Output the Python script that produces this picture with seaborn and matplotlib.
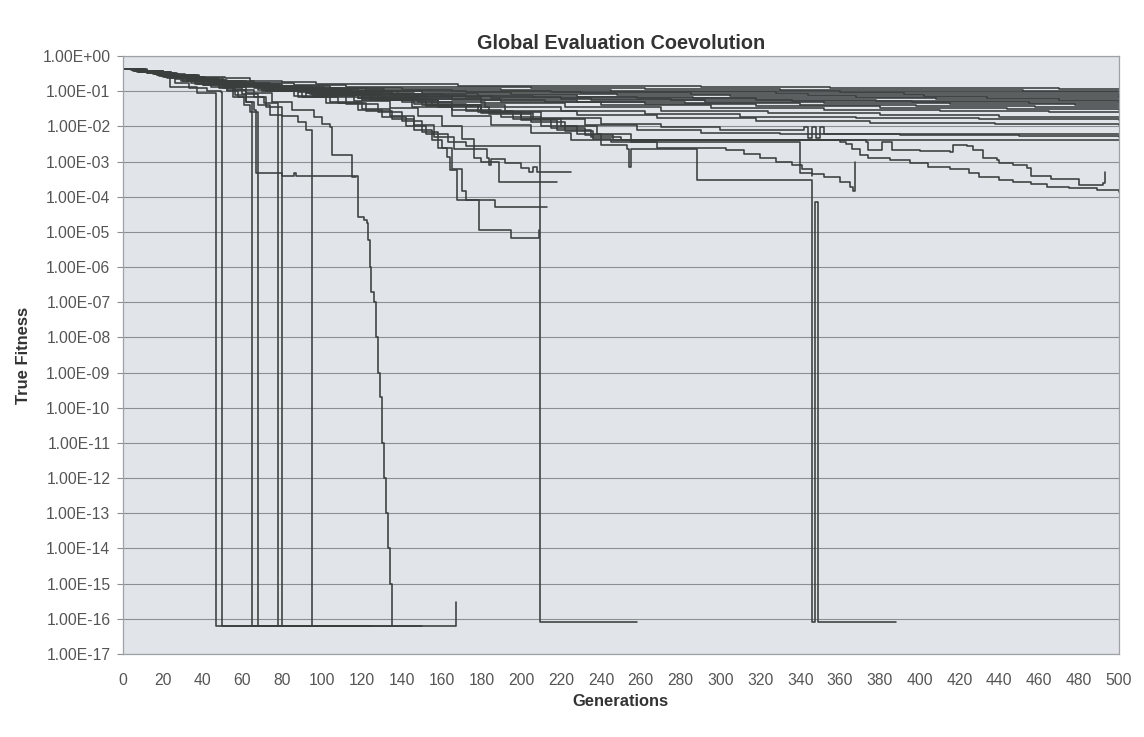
import matplotlib
matplotlib.use("Agg")
import matplotlib.pyplot as plt
from matplotlib.ticker import FixedLocator, FuncFormatter, NullLocator
import pandas as pd
import seaborn as sns

TITLE = "Global Evaluation Coevolution"
X_LABEL = "Generations"
Y_LABEL = "True Fitness"
x_ticks = list(range(0, 501, 20))
y_ticks = [10.0 ** e for e in range(0, -18, -1)]

# best-so-far fitness of each run: (generation, fitness) change points
FLOOR_A = 6.3e-17
FLOOR_B = 8.1e-17

t01 = [(0, .43), (5, .40), (11, .36), (19, .32), (27, .29), (38, .26), (51, .23), (64, .20), (80, .18), (97, .165), (125, .155), (168, .145), (226, .138), (290, .13), (355, .125), (418, .12), (470, .117), (500, .115)]
t02 = [(0, .43), (6, .38), (14, .33), (24, .28), (36, .24), (50, .20), (66, .17), (86, .15), (112, .135), (150, .128), (205, .12), (262, .115), (330, .11), (395, .106), (452, .103), (500, .10)]
t03 = [(0, .43), (4, .39), (12, .32), (21, .27), (34, .23), (47, .19), (62, .165), (80, .14), (104, .125), (140, .115), (190, .11), (245, .104), (300, .10), (360, .097), (425, .094), (500, .092)]
t04 = [(0, .43), (7, .37), (16, .30), (27, .25), (41, .20), (57, .17), (74, .145), (95, .125), (122, .11), (165, .102), (215, .097), (270, .092), (328, .088), (392, .085), (446, .082), (500, .08)]
t05 = [(0, .43), (8, .36), (18, .29), (30, .24), (44, .19), (60, .16), (79, .135), (101, .115), (131, .10), (172, .093), (230, .088), (285, .083), (344, .079), (402, .075), (463, .072), (500, .07)]
t06 = [(0, .43), (5, .38), (15, .31), (26, .25), (40, .20), (55, .165), (72, .14), (92, .118), (118, .10), (150, .09), (195, .083), (248, .077), (305, .072), (368, .068), (434, .064), (500, .062)]
t07 = [(0, .43), (9, .35), (20, .28), (33, .22), (48, .18), (66, .145), (86, .12), (108, .10), (138, .085), (178, .077), (228, .07), (286, .066), (346, .062), (408, .059), (470, .057), (500, .056)]
t08 = [(0, .43), (6, .37), (17, .29), (29, .23), (43, .18), (58, .15), (76, .125), (98, .10), (126, .085), (160, .075), (206, .068), (258, .062), (318, .058), (378, .054), (440, .051), (500, .05)]
t09 = [(0, .43), (7, .36), (19, .28), (32, .22), (47, .17), (64, .14), (83, .115), (106, .095), (135, .08), (172, .068), (220, .061), (275, .056), (336, .052), (396, .049), (455, .046), (500, .045)]
t10 = [(0, .43), (10, .35), (22, .27), (35, .21), (51, .165), (69, .135), (90, .11), (115, .09), (146, .075), (185, .064), (235, .056), (292, .05), (352, .046), (415, .043), (478, .041), (500, .04)]
t11 = [(0, .43), (8, .36), (20, .28), (34, .21), (50, .16), (67, .13), (88, .105), (112, .085), (142, .068), (180, .058), (228, .05), (282, .045), (340, .041), (398, .038), (458, .036), (500, .035)]
t12 = [(0, .43), (6, .38), (16, .30), (28, .23), (43, .175), (60, .14), (80, .11), (103, .088), (130, .07), (165, .058), (212, .048), (262, .042), (318, .037), (380, .034), (444, .031), (500, .03)]
t13 = [(0, .43), (9, .36), (21, .27), (36, .20), (53, .155), (72, .12), (94, .095), (120, .075), (152, .06), (190, .048), (240, .04), (295, .034), (352, .03), (410, .028), (465, .026), (500, .025)]
t14 = [(0, .43), (7, .37), (19, .28), (33, .21), (50, .16), (68, .125), (90, .10), (114, .078), (144, .06), (180, .045), (222, .035), (270, .028), (324, .024), (380, .021), (440, .019), (500, .018)]
t15 = [(0, .43), (8, .36), (20, .28), (35, .20), (52, .15), (70, .115), (92, .088), (118, .066), (148, .048), (182, .035), (220, .027), (262, .022), (310, .019), (368, .017), (430, .016), (500, .015)]
t16 = [(0, .43), (10, .35), (23, .26), (38, .19), (56, .14), (76, .105), (100, .078), (128, .056), (158, .04), (192, .028), (228, .021), (268, .017), (318, .014), (375, .0125), (438, .0115), (500, .011)]
t17 = [(0, .43), (7, .37), (18, .29), (32, .21), (50, .155), (70, .115), (94, .085), (120, .06), (150, .04), (180, .026), (210, .017), (240, .012), (270, .0095), (300, .008), (342, .0095), (344, .0048), (346, .0095), (348, .0048), (350, .0095), (352, .006), (420, .0062), (500, .006)]
t18 = [(0, .43), (9, .36), (21, .27), (36, .20), (54, .15), (74, .11), (98, .08), (124, .055), (152, .037), (180, .024), (206, .016), (232, .011), (258, .008), (290, .0065), (330, .006), (390, .0055), (450, .0052), (500, .005)]

flat_l = [(0, .43), (9, .36), (21, .28), (37, .20), (55, .15), (75, .115), (98, .085), (125, .06), (152, .04), (178, .025), (200, .015), (218, .008), (235, .005), (250, .004), (500, .004)]
slope_g = [(0, .43), (7, .38), (18, .30), (31, .22), (48, .16), (66, .125), (88, .095), (112, .07), (140, .048), (165, .03), (190, .018), (210, .01), (228, .006), (240, .004), (360, .0036), (363, .0032), (366, .0022), (370, .0015), (374, .00126), (385, .0011), (395, .0009), (404, .0007), (415, .0006), (425, .00048), (430, .00036), (440, .0003), (447, .00026), (456, .00023), (464, .00019), (475, .000175), (489, .00016), (500, .00014)]
slope_h = [(0, .43), (8, .37), (20, .29), (35, .21), (52, .155), (71, .12), (93, .09), (118, .065), (146, .044), (172, .027), (196, .016), (215, .009), (232, .0055), (246, .004), (373, .0036), (374, .0021), (381, .0036), (386, .0021), (400, .002), (415, .0019), (416.5, .0029), (424, .0027), (427, .0021), (432, .0013), (439, .0011), (440, .0009), (447, .0008), (454, .00066), (456, .00038), (466, .00032), (480, .00022), (489, .00021), (492, .00025), (493, .0005)]

drop_1 = [(0, .43), (8, .37), (16, .30), (23.5, .13), (37, .09), (46, .088), (46.5, FLOOR_A), (104, FLOOR_A)]
drop_2 = [(0, .43), (10, .35), (18, .27), (26, .17), (33, .12), (42, .10), (49, .093), (49.5, FLOOR_A), (120, FLOOR_A)]
drop_3 = [(0, .43), (9, .36), (20, .26), (30, .20), (40, .15), (52, .10), (58, .07), (62, .05), (65, FLOOR_A), (90, FLOOR_A)]
drop_4 = [(0, .43), (11, .34), (24, .23), (36, .16), (48, .12), (55, .07), (61, .04), (64, .026), (68, FLOOR_A), (135, FLOOR_A)]
drop_5 = [(0, .43), (12, .33), (26, .22), (40, .15), (55, .11), (66, .07), (71, .046), (78, FLOOR_A), (110, FLOOR_A)]
drop_6 = [(0, .43), (8, .36), (21, .25), (34, .17), (50, .12), (60, .085), (68, .04), (74, .021), (80, FLOOR_A), (150, FLOOR_A)]
drop_7 = [(0, .43), (10, .35), (22, .24), (37, .16), (52, .11), (62, .07), (72, .035), (80, .02), (88, .013), (92, .008), (95, FLOOR_A), (125, FLOOR_A)]

slide_1 = [(0, .43), (7, .37), (17, .28), (29, .19), (44, .13), (56, .08), (62, .05), (66, .03), (67, 4.7e-4), (80, 3.8e-4), (86, 4.6e-4), (87, 3.8e-4), (118, 2.6e-5), (121, 2.2e-5), (122.5, 1.8e-5), (123, 6e-6), (124, 1e-6), (124.5, 2e-7), (126, 1e-7), (127, 1e-8), (128, 1e-9), (129, 2e-10), (130, 1e-11), (131, 1e-12), (132, 1e-13), (133, 1e-14), (134, 1e-15), (135, FLOOR_A), (166, FLOOR_A), (167, 3e-16)]
slide_2 = [(0, .43), (9, .36), (19, .27), (32, .19), (48, .13), (62, .09), (75, .05), (85, .03), (96, .018), (100, .012), (104, .0095), (105, .0015), (115, 3.6e-4), (117, 3.6e-4)]

end_b = [(0, .43), (10, .36), (22, .26), (38, .18), (55, .13), (72, .10), (88, .07), (102, .045), (118, .03), (130, .018), (142, .01), (152, .006), (163, .0035), (172, .0028), (209.5, FLOOR_B), (258, FLOOR_B)]
end_c = [(0, .43), (8, .37), (20, .27), (35, .19), (52, .14), (70, .10), (90, .07), (108, .045), (122, .028), (135, .016), (146, .008), (155, .004), (160, .0025), (162.5, .00135), (164, 5.7e-4), (167.5, 8e-5), (179, 1.15e-5), (195, 6.7e-6), (209, 1.1e-5)]
end_d = [(0, .43), (9, .36), (21, .27), (36, .20), (54, .14), (72, .10), (92, .068), (112, .042), (128, .025), (140, .014), (150, .007), (158, .0025), (165, 6e-4), (170, 1.5e-4), (172, 8e-5), (187, 5.1e-5), (213, 5.1e-5)]
end_e = [(0, .43), (7, .37), (19, .28), (33, .20), (51, .14), (68, .105), (86, .075), (104, .05), (120, .032), (134, .02), (146, .011), (156, .005), (166, .0022), (176, .0013), (180, .001), (189, 2.6e-4), (218, 2.6e-4)]
end_f = [(0, .43), (10, .35), (23, .26), (39, .19), (57, .14), (76, .10), (96, .075), (116, .052), (134, .033), (148, .02), (160, .01), (170, .0045), (176, .0022), (183, .0013), (184, 8e-4), (185, .0012), (192, 9e-4), (200, 6.5e-4), (204, 5e-4), (206, 7e-4), (208, 5e-4), (225, 5e-4)]

late_1 = [(0, .43), (8, .37), (20, .28), (34, .20), (52, .145), (72, .11), (95, .08), (120, .055), (145, .035), (165, .02), (185, .011), (205, .0065), (225, .004), (240, .003), (253, .0022), (254, 7e-4), (255, .0022), (288, 3e-4), (346, FLOOR_B), (347.5, 7e-5), (349, FLOOR_B), (388, FLOOR_B)]
late_2 = [(0, .43), (9, .36), (22, .27), (38, .20), (57, .15), (78, .115), (100, .085), (128, .06), (155, .04), (180, .025), (200, .016), (220, .01), (238, .006), (255, .0035), (268, .0024), (303, .0021), (312, .0016), (320, .0013), (328, .001), (336, 8e-4), (341, 6e-4), (346, 4.5e-4), (352, 3.6e-4), (360, 2.6e-4), (365, 1.9e-4), (366.5, 1.5e-4), (367.5, .001)]
late_3 = [(0, .43), (11, .35), (24, .26), (40, .19), (58, .14), (80, .105), (104, .078), (130, .055), (158, .036), (184, .022), (205, .013), (222, .0075), (236, .0045), (245, .0037), (339, .0036), (340, 4.7e-4), (346, 4e-4)]

runs = {
    "t01": t01, "t02": t02, "t03": t03, "t04": t04, "t05": t05, "t06": t06,
    "t07": t07, "t08": t08, "t09": t09, "t10": t10, "t11": t11, "t12": t12,
    "t13": t13, "t14": t14, "t15": t15, "t16": t16, "t17": t17, "t18": t18,
    "flat_l": flat_l, "slope_g": slope_g, "slope_h": slope_h,
    "drop_1": drop_1, "drop_2": drop_2, "drop_3": drop_3, "drop_4": drop_4,
    "drop_5": drop_5, "drop_6": drop_6, "drop_7": drop_7,
    "slide_1": slide_1, "slide_2": slide_2,
    "end_b": end_b, "end_c": end_c, "end_d": end_d, "end_e": end_e, "end_f": end_f,
    "late_1": late_1, "late_2": late_2, "late_3": late_3,
}

df = pd.DataFrame(
    [(name, g, f) for name, pts in runs.items() for g, f in pts],
    columns=["run", "generation", "fitness"],
)

sns.set_style("white")
plt.rcParams["font.family"] = ["Liberation Sans", "DejaVu Sans"]

fig = plt.figure(figsize=(11.44, 7.37), dpi=100)
ax = fig.add_axes([0.1075, 0.1126, 0.8705, 0.8114])
ax.set_facecolor("#e1e5ea")

ax.set_yscale("log")
sns.lineplot(
    data=df, x="generation", y="fitness", units="run", estimator=None,
    sort=False, drawstyle="steps-post", color="#3a3e3d", linewidth=1.15,
    legend=False, ax=ax,
)

ax.set_xlim(0, 500)
ax.set_ylim(1e-17, 1.0)
ax.xaxis.set_major_locator(FixedLocator(x_ticks))
ax.yaxis.set_major_locator(FixedLocator(y_ticks))
ax.yaxis.set_minor_locator(NullLocator())
ax.yaxis.set_major_formatter(FuncFormatter(lambda v, _: f"{v:.2E}"))
ax.grid(axis="y", color="#8c8f92", linewidth=0.8)
ax.grid(axis="x", visible=False)
ax.set_axisbelow(True)

for side in ["top", "right", "left", "bottom"]:
    ax.spines[side].set_color("#9ea2a6")
    ax.spines[side].set_linewidth(0.9)

ax.tick_params(axis="y", length=4, width=0.8, color="#8c8f92", pad=5,
               labelsize=11.3, labelcolor="#555555", left=True)
ax.tick_params(axis="x", length=0, pad=14, labelsize=11.3, labelcolor="#555555")

ax.set_title(TITLE, fontsize=14.3, fontweight="bold", color="#333333", pad=5)
ax.set_xlabel(X_LABEL, fontsize=11.9, fontweight="bold", color="#333333", labelpad=4)
ax.set_ylabel(Y_LABEL, fontsize=11.9, fontweight="bold", color="#333333", labelpad=8)

fig.savefig("out.png", dpi=100, facecolor="white")
